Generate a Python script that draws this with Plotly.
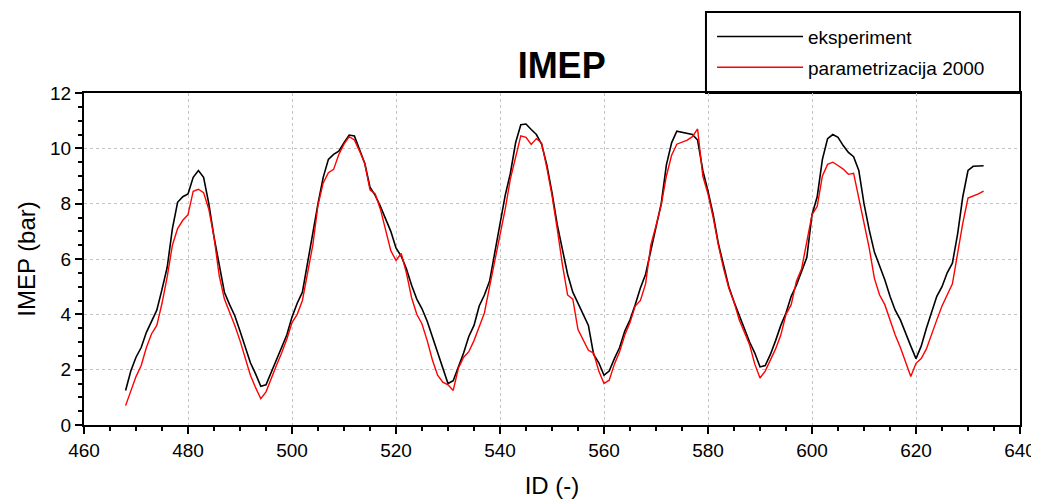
import plotly.graph_objects as go

ids = list(range(468, 634))

imep_exp = [
    1.25, 1.95, 2.45, 2.8, 3.35, 3.75, 4.15, 4.9, 5.7, 7.1,          # 468-477
    8.05, 8.25, 8.35, 8.95, 9.2, 8.95, 8.0, 6.8, 5.85, 4.8,           # 478-487
    4.35, 3.95, 3.4, 2.8, 2.25, 1.85, 1.4, 1.45, 1.9, 2.3,            # 488-497
    2.8, 3.25, 3.9, 4.4, 4.8, 5.9, 6.9, 8.0, 8.95, 9.6,               # 498-507
    9.78, 9.9, 10.2, 10.48, 10.45, 9.95, 9.45, 8.6, 8.3, 7.9,         # 508-517
    7.45, 7.0, 6.4, 6.1, 5.65, 5.05, 4.55, 4.2, 3.75, 3.2,            # 518-527
    2.6, 2.1, 1.5, 1.6, 2.1, 2.6, 3.2, 3.6, 4.3, 4.7,                 # 528-537
    5.2, 6.2, 7.2, 8.3, 9.1, 10.2, 10.85, 10.88, 10.68, 10.5,         # 538-547
    10.15, 9.4, 8.4, 7.25, 6.35, 5.45, 4.8, 4.4, 3.95, 3.6,           # 548-557
    2.55, 2.25, 1.8, 1.95, 2.4, 2.8, 3.4, 3.8, 4.35, 4.95,            # 558-567
    5.45, 6.3, 7.15, 8.0, 9.4, 10.2, 10.62, 10.58, 10.55, 10.5,       # 568-577
    10.3, 9.2, 8.45, 7.6, 6.55, 5.75, 5.0, 4.45, 3.95, 3.45,          # 578-587
    3.0, 2.6, 2.1, 2.15, 2.55, 3.05, 3.6, 4.05, 4.65, 5.05,           # 588-597
    5.55, 6.05, 7.6, 8.25, 9.6, 10.35, 10.5, 10.4, 10.1, 9.85,        # 598-607
    9.7, 9.2, 8.0, 7.05, 6.25, 5.75, 5.25, 4.65, 4.15, 3.8,           # 608-617
    3.3, 2.85, 2.4, 2.85, 3.5, 4.1, 4.65, 5.0, 5.5, 5.85,             # 618-627
    6.9, 8.25, 9.2, 9.35, 9.36, 9.37,                                 # 628-633
]

imep_param = [
    0.7, 1.25, 1.75, 2.15, 2.8, 3.3, 3.6, 4.4, 5.35, 6.5,             # 468-477
    7.1, 7.4, 7.6, 8.45, 8.52, 8.4, 7.8, 6.8, 5.4, 4.55,              # 478-487
    4.1, 3.6, 3.05, 2.4, 1.8, 1.35, 0.95, 1.2, 1.7, 2.15,             # 488-497
    2.6, 3.1, 3.7, 4.0, 4.5, 5.5, 6.5, 7.95, 8.75, 9.12,              # 498-507
    9.24, 9.78, 10.15, 10.42, 10.3, 9.9, 9.45, 8.5, 8.35, 7.8,        # 508-517
    7.1, 6.3, 5.95, 6.2, 5.5, 4.6, 4.0, 3.65, 3.05, 2.35,             # 518-527
    1.8, 1.55, 1.45, 1.25, 2.05, 2.45, 2.65, 3.05, 3.55, 4.05,        # 528-537
    5.0, 5.9, 6.8, 7.8, 8.9, 9.7, 10.45, 10.4, 10.14, 10.35,          # 538-547
    10.2, 9.3, 8.3, 7.1, 5.8, 4.7, 4.55, 3.45, 3.05, 2.7,             # 548-557
    2.6, 1.95, 1.5, 1.62, 2.2, 2.65, 3.25, 3.7, 4.3, 4.5,             # 558-567
    5.1, 6.5, 7.2, 7.95, 9.0, 9.75, 10.15, 10.22, 10.3, 10.42,        # 568-577
    10.7, 9.0, 8.35, 7.5, 6.5, 5.65, 4.95, 4.45, 3.8, 3.35,           # 578-587
    2.9, 2.2, 1.7, 1.95, 2.35, 2.75, 3.25, 4.0, 4.35, 5.2,            # 588-597
    5.65, 6.7, 7.6, 7.9, 9.0, 9.42, 9.5, 9.38, 9.25, 9.06,            # 598-607
    9.1, 8.2, 7.3, 6.4, 5.3, 4.7, 4.35, 3.8, 3.25, 2.8,               # 608-617
    2.3, 1.75, 2.23, 2.4, 2.75, 3.3, 3.8, 4.3, 4.7, 5.1,              # 618-627
    6.2, 7.3, 8.2, 8.27, 8.35, 8.45,                                  # 628-633
]

FONT = "Liberation Sans, Arial, sans-serif"

fig = go.Figure()
fig.add_trace(go.Scatter(x=ids, y=imep_exp, mode="lines", name="eksperiment",
                         legendgroup="a", line=dict(color="#000000", width=1.6)))
fig.add_trace(go.Scatter(x=ids, y=imep_param, mode="lines", name="parametrizacija 2000",
                         legendgroup="b", line=dict(color="#ff0000", width=1.4)))

axis_common = dict(
    showline=True, linecolor="black", linewidth=2, mirror=True,
    ticks="outside", ticklen=7, tickwidth=1.5, tickcolor="black",
    showgrid=True, gridcolor="#c4c4c4", griddash="dot", gridwidth=1,
    zeroline=False, automargin=False, ticklabeloverflow="allow",
    tickfont=dict(family=FONT, size=19, color="black"),
)

fig.update_xaxes(
    range=[460, 640], dtick=20, tick0=460,
    minor=dict(dtick=5, ticks="outside", ticklen=4, tickcolor="black", showgrid=False),
    title=dict(text="ID (-)", font=dict(family=FONT, size=24, color="black"), standoff=17),
    **axis_common,
)
fig.update_yaxes(
    range=[0, 12], dtick=2, tick0=0,
    minor=dict(dtick=0.5, ticks="outside", ticklen=4, tickcolor="black", showgrid=False),
    title=dict(text="IMEP (bar)", font=dict(family=FONT, size=24, color="black"), standoff=8),
    **axis_common,
)

# legend frame sitting on top of the plot border
fig.add_shape(type="rect", xref="paper", yref="paper",
              x0=0.6645, x1=1.0, y0=1.0, y1=1.244,
              line=dict(color="black", width=2), fillcolor="white", layer="below")

# page body adds an 8px offset, so the figure is smaller and margins shifted
fig.update_layout(
    width=1031, height=493,
    margin=dict(l=76, r=19, t=85, b=76, autoexpand=False),
    paper_bgcolor="white", plot_bgcolor="white",
    font=dict(family=FONT, color="black"),
    title=dict(text="<b>IMEP</b>", x=0.537, xanchor="center", y=1 - 57 / 493, yanchor="middle",
               font=dict(family=FONT, size=36, color="black")),
    showlegend=True,
    legend=dict(x=0.671, xanchor="left", y=1.227, yanchor="top",
                bgcolor="rgba(0,0,0,0)", borderwidth=0,
                font=dict(family=FONT, size=19, color="black"),
                itemwidth=86, traceorder="grouped", tracegroupgap=3),
)

fig.write_html("out.html")
